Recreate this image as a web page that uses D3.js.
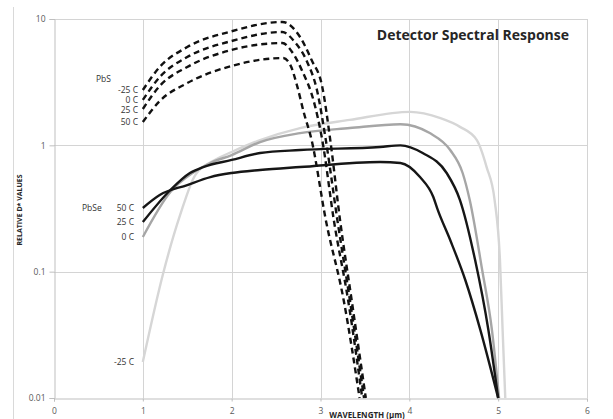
<!DOCTYPE html>
<html>
<head>
<meta charset="utf-8">
<script src="https://cdn.jsdelivr.net/npm/d3@7"></script>
<style>
  body { margin: 0; background: #fff; }
  text { font-family: "Open Sans", "Liberation Sans", sans-serif; }
</style>
</head>
<body>
<div id="chart"></div>
<script>
// PbS curves (dashed) : [wavelength um, relative D*]
var pbsM25 = [[1.00,2.74],[1.19,4.17],[1.50,6.0],[2.00,8.0],[2.57,9.47],[2.77,7.2],[2.90,4.73],[3.02,2.9],[3.11,1.10],[3.22,0.256],[3.35,0.060],[3.51,0.01]];
var pbs0   = [[1.00,2.29],[1.19,3.47],[1.50,5.0],[2.00,6.70],[2.57,7.89],[2.71,6.58],[2.85,4.57],[2.96,2.74],[3.06,1.10],[3.19,0.256],[3.33,0.060],[3.49,0.01]];
var pbs25  = [[1.00,1.94],[1.19,2.95],[1.50,4.17],[2.00,5.69],[2.57,6.45],[2.68,5.48],[2.80,3.80],[2.92,2.29],[3.02,1.10],[3.15,0.256],[3.31,0.060],[3.47,0.01]];
var pbs50  = [[1.00,1.53],[1.19,2.24],[1.50,3.11],[2.00,4.25],[2.58,4.91],[2.66,4.33],[2.74,2.9],[2.81,1.84],[2.90,1.10],[3.06,0.256],[3.26,0.060],[3.44,0.01]];

// PbSe curves (solid)
var pbse50  = [[1.00,0.319],[1.19,0.404],[1.50,0.485],[1.76,0.561],[2.00,0.604],[2.32,0.638],[2.77,0.673],[3.67,0.738],[3.90,0.725],[4.12,0.561],[4.27,0.390],[4.32,0.308],[4.46,0.178],[4.63,0.0859],[4.80,0.0345],[5.00,0.01]];
var pbse25  = [[1.00,0.247],[1.31,0.443],[1.53,0.604],[1.68,0.673],[2.00,0.766],[2.32,0.869],[2.77,0.918],[3.67,0.97],[3.90,1.0],[4.15,0.869],[4.42,0.604],[4.57,0.369],[4.74,0.124],[4.89,0.0345],[5.00,0.01]];
var pbse0   = [[1.00,0.188],[1.31,0.427],[1.56,0.604],[1.76,0.725],[2.00,0.838],[2.32,1.062],[2.77,1.25],[3.33,1.37],[3.90,1.47],[4.23,1.25],[4.46,0.918],[4.60,0.604],[4.68,0.369],[4.82,0.103],[4.93,0.0345],[5.01,0.01]];
var pbseM25 = [[1.00,0.0193],[1.23,0.0976],[1.42,0.281],[1.59,0.582],[1.81,0.766],[2.00,0.886],[2.32,1.10],[2.77,1.37],[3.33,1.59],[4.01,1.84],[4.35,1.64],[4.57,1.40],[4.76,1.10],[4.87,0.673],[4.96,0.369],[5.02,0.124],[5.05,0.0345],[5.08,0.01]];

var xTicks = [0,1,2,3,4,5,6];
var yTicks = [0.01,0.1,1,10];

var pbsLabels = ["-25 C","0 C","25 C","50 C"];
var pbseLabels = ["50 C","25 C","0 C","-25 C"];

var w = 613, h = 419;
var svg = d3.select("#chart").append("svg")
    .attr("width", w)
    .attr("height", h);

var x = d3.scaleLinear().domain([0, 6]).range([54, 587]);
var y = d3.scaleLog().domain([0.01, 10]).range([398, 19]);

// outer frame edge
svg.append("line")
    .attr("x1", 13.5).attr("x2", 13.5)
    .attr("y1", 7).attr("y2", h)
    .style("stroke", "#d9d9d9");

// gridlines
svg.selectAll(".vgrid")
    .data(xTicks.slice(1))
    .enter().append("line")
      .attr("x1", function(d){ return Math.round(x(d)) + 0.5 })
      .attr("x2", function(d){ return Math.round(x(d)) + 0.5 })
      .attr("y1", y(10)).attr("y2", y(0.01))
      .style("stroke", "#d4d4d4");

svg.selectAll(".hgrid")
    .data(yTicks.slice(1))
    .enter().append("line")
      .attr("y1", function(d){ return Math.round(y(d)) + 0.5 })
      .attr("y2", function(d){ return Math.round(y(d)) + 0.5 })
      .attr("x1", x(0)).attr("x2", x(6))
      .style("stroke", "#d4d4d4");

var yAxis = d3.axisLeft(y).tickValues(yTicks).tickFormat(function(d){ return String(d) })
    .tickSize(5).tickPadding(4);
var xAxis = d3.axisBottom(x).tickValues(xTicks).tickFormat(d3.format("d"))
    .tickSize(3).tickPadding(6);

svg.append("g")
    .attr("transform", "translate(" + (Math.round(x(0)) + 0.5) + ",0)")
    .call(yAxis);
svg.append("g")
    .attr("transform", "translate(0," + (Math.round(y(0.01)) + 0.5) + ")")
    .call(xAxis);

svg.selectAll(".domain, .tick line").style("stroke", "#bfbfbf");
svg.selectAll(".tick text")
    .style("font-size", "8.5px")
    .style("fill", "#595959");

var line = d3.line()
    .x(function(d){ return x(d[0]) })
    .y(function(d){ return y(d[1]) })
    .curve(d3.curveMonotoneX);

var solid = [
  {data: pbseM25, color: "#d6d6d6"},
  {data: pbse0, color: "#a6a6a6"},
  {data: pbse25, color: "#161616"},
  {data: pbse50, color: "#161616"}
];
var dashed = [pbsM25, pbs0, pbs25, pbs50];

svg.selectAll(".pbse")
    .data(solid)
    .enter().append("path")
      .attr("d", function(d){ return line(d.data) })
      .style("fill", "none")
      .style("stroke", function(d){ return d.color })
      .style("stroke-width", 2.4);

svg.selectAll(".pbs")
    .data(dashed)
    .enter().append("path")
      .attr("d", function(d){ return line(d) })
      .style("fill", "none")
      .style("stroke", "#111")
      .style("stroke-width", 2.4)
      .style("stroke-dasharray", "6,4");

// curve labels
svg.append("text")
    .attr("x", 96).attr("y", 82)
    .style("font-size", "8.5px").style("fill", "#333")
    .text("PbS");
svg.selectAll(".pbsLab")
    .data(pbsLabels)
    .enter().append("text")
      .attr("x", 138)
      .attr("y", function(d, i){ return y(pbsM25[0][1]) + 3 + [0, 10, 19.5, 32][i] })
      .attr("text-anchor", "end")
      .style("font-size", "8.5px").style("fill", "#333")
      .text(function(d){ return d });

svg.append("text")
    .attr("x", 82).attr("y", 211)
    .style("font-size", "8.5px").style("fill", "#333")
    .text("PbSe");
var pbseStart = [pbse50, pbse25, pbse0, pbseM25];
svg.selectAll(".pbseLab")
    .data(pbseLabels)
    .enter().append("text")
      .attr("x", 134)
      .attr("y", function(d, i){ return y(pbseStart[i][0][1]) + 3 })
      .attr("text-anchor", "end")
      .style("font-size", "8.5px").style("fill", "#333")
      .text(function(d){ return d });

// titles
svg.append("text")
    .attr("x", 569).attr("y", 40)
    .attr("text-anchor", "end")
    .style("font-size", "14px").style("font-weight", "bold").style("fill", "#262626")
    .text("Detector Spectral Response");

svg.append("text")
    .attr("x", 367).attr("y", 418)
    .attr("text-anchor", "middle")
    .style("font-size", "8px").style("font-weight", "bold").style("fill", "#262626")
    .text("WAVELENGTH (µm)");

svg.append("text")
    .attr("transform", "translate(22,210) rotate(-90)")
    .attr("text-anchor", "middle")
    .style("font-size", "7px").style("font-weight", "bold").style("fill", "#262626")
    .text("RELATIVE D* VALUES");
</script>
</body>
</html>
